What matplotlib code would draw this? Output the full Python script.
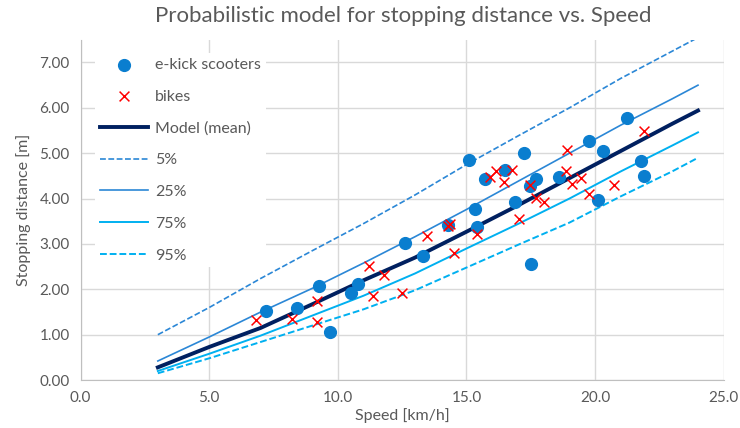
import matplotlib.pyplot as plt
from matplotlib.ticker import FormatStrFormatter

plt.rcParams['font.family'] = ['Lato', 'DejaVu Sans']

# measured points
scooter_speed = [7.2, 8.4, 9.25, 9.7, 10.5, 10.8, 12.6, 13.3, 14.3, 15.1, 15.35, 15.4,
                 15.7, 16.5, 16.9, 17.25, 17.45, 17.5, 17.7, 18.6, 19.75, 20.1, 20.3,
                 21.25, 21.8, 21.9]
scooter_dist = [1.53, 1.58, 2.08, 1.07, 1.91, 2.11, 3.02, 2.74, 3.41, 4.86, 3.77, 3.37,
                4.44, 4.63, 3.93, 5.0, 4.27, 2.55, 4.44, 4.48, 5.27, 3.96, 5.04,
                5.77, 4.83, 4.49]

bike_speed = [6.8, 8.2, 9.2, 9.2, 11.2, 11.8, 11.35, 12.5, 13.45, 14.3, 14.35, 14.5,
              15.4, 15.9, 16.15, 16.75, 16.45, 17.05, 17.45, 17.7, 18.0, 18.85, 18.9,
              19.1, 19.45, 19.75, 20.75, 21.9]
bike_dist = [1.33, 1.34, 1.74, 1.27, 2.51, 2.32, 1.85, 1.92, 3.17, 3.39, 3.45, 2.81,
             3.22, 4.48, 4.6, 4.63, 4.37, 3.55, 4.3, 4.02, 3.93, 4.6, 5.07,
             4.33, 4.46, 4.11, 4.31, 5.5]

# model curves
model_speed = [3, 5, 7, 9, 11, 13, 15, 17, 19, 21, 23, 24]
mean = [0.28, 0.73, 1.15, 1.67, 2.2, 2.7, 3.27, 3.85, 4.45, 5.05, 5.65, 5.94]
p05 = [1.0, 1.6, 2.24, 2.85, 3.45, 4.08, 4.75, 5.38, 6.0, 6.65, 7.25, 7.55]
p25 = [0.42, 0.95, 1.5, 2.02, 2.58, 3.16, 3.76, 4.38, 5.0, 5.62, 6.2, 6.5]
p75 = [0.2, 0.58, 0.98, 1.42, 1.86, 2.35, 2.9, 3.44, 4.0, 4.6, 5.17, 5.46]
p95 = [0.15, 0.48, 0.84, 1.2, 1.56, 1.98, 2.48, 2.98, 3.47, 4.05, 4.6, 4.9]

grey = '#595959'

fig = plt.figure(figsize=(7.4, 4.28), dpi=100)
ax = fig.add_axes([0.109, 0.112, 0.869, 0.795])

ax.scatter(scooter_speed, scooter_dist, s=72, color='#0A7ECF', label='e-kick scooters', zorder=3)
ax.scatter(bike_speed, bike_dist, s=50, marker='x', color='#FF0000', linewidths=1.1,
           label='bikes', zorder=4)
ax.plot(model_speed, mean, color='#002060', lw=2.8, label='Model (mean)', zorder=2)
ax.plot(model_speed, p05, color='#2B87D6', lw=1.2, ls=(0, (3.5, 1.5)), label='5%', zorder=2)
ax.plot(model_speed, p25, color='#2B87D6', lw=1.2, label='25%', zorder=2)
ax.plot(model_speed, p75, color='#00B0F0', lw=1.4, label='75%', zorder=2)
ax.plot(model_speed, p95, color='#00B0F0', lw=1.4, ls=(0, (3.5, 1.5)), label='95%', zorder=2)

ax.set_xlim(0, 25)
ax.set_ylim(0, 7.5)
ax.set_xticks([0, 5, 10, 15, 20, 25])
ax.set_yticks([0, 1, 2, 3, 4, 5, 6, 7])
ax.xaxis.set_major_formatter(FormatStrFormatter('%.1f'))
ax.yaxis.set_major_formatter(FormatStrFormatter('%.2f'))
ax.tick_params(length=0, colors=grey, labelsize=11, pad=8)
ax.grid(True, color='#D9D9D9', lw=1)
ax.set_axisbelow(True)
for s in ['top', 'right']:
    ax.spines[s].set_visible(False)
for s in ['left', 'bottom']:
    ax.spines[s].set_color('#BFBFBF')

ax.set_xlabel('Speed [km/h]', color=grey, fontsize=11.5, labelpad=2)
ax.set_ylabel('Stopping distance [m]', color=grey, fontsize=11.5, labelpad=6)
fig.text(0.545, 0.985, 'Probabilistic model for stopping distance vs. Speed', color=grey,
         fontsize=16, ha='center', va='top')

leg = ax.legend(loc='upper left', bbox_to_anchor=(0.01, 0.985), frameon=True,
                fontsize=11.5, handlelength=3.0, handletextpad=0.45,
                labelspacing=1.1, borderpad=0.3)
leg.get_frame().set_edgecolor('none')
leg.get_frame().set_facecolor('white')
leg.get_frame().set_alpha(1)
for t in leg.get_texts():
    t.set_color(grey)

fig.savefig('out.png', dpi=100)
